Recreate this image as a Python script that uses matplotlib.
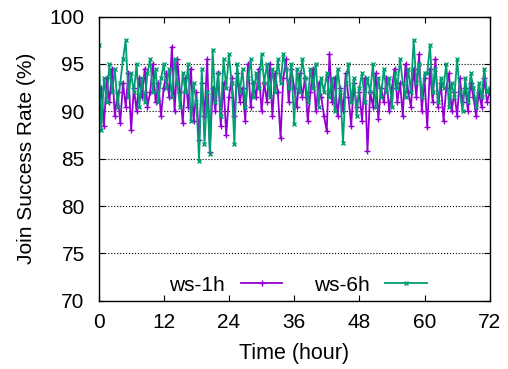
import matplotlib.pyplot as plt
import numpy as np

plt.rcParams['font.family'] = ['Liberation Sans', 'DejaVu Sans']

# join success rate sampled every half hour
hours = np.arange(0, 72.5, 0.5)

ws_1h = [90.0, 92.5, 88.5, 93.5, 91.0, 94.5, 89.5, 92.0, 88.8, 93.0, 90.5, 94.0, 88.0,
         92.5, 90.0, 93.5, 91.5, 94.5, 90.5, 92.0, 95.0, 91.0, 93.0, 89.5, 92.5,
         94.0, 91.5, 96.8, 90.0, 95.5, 92.0, 88.8, 93.5, 90.5, 94.5, 89.0, 92.0,
         87.0, 93.0, 89.5, 95.5, 85.7, 92.5, 90.0, 94.0, 88.5, 93.0, 87.5, 91.5,
         93.5, 89.5, 94.0, 91.0, 92.5, 89.0, 95.0, 90.5, 93.0, 91.5, 94.5, 90.0,
         93.0, 91.0, 95.0, 89.5, 94.0, 92.0, 87.2, 93.5, 95.5, 91.0, 94.5, 92.5,
         90.5, 94.0, 91.5, 93.5, 89.0, 92.0, 94.5, 90.0, 93.0, 91.5, 89.5, 87.9,
         96.0, 91.0, 93.5, 89.5, 92.5, 90.0, 94.0, 91.5, 88.5, 93.0, 90.5, 92.0,
         89.0, 93.5, 85.8, 92.0, 90.5, 94.0, 89.2, 92.5, 91.0, 93.5, 90.0, 92.5,
         94.5, 91.0, 93.0, 89.5, 95.0, 92.0, 90.5, 94.5, 91.5, 96.0, 90.0, 93.5,
         88.3, 94.5, 91.0, 95.5, 90.5, 93.0, 89.0, 92.5, 94.0, 90.0, 92.0, 89.5,
         93.5, 91.0, 92.5, 90.0, 93.0, 91.5, 89.5, 92.0, 90.5, 93.5, 91.0, 92.0]

ws_6h = [97.0, 88.0, 93.5, 91.0, 95.0, 92.0, 94.5, 90.5, 93.0, 95.5, 97.5, 91.5, 94.0,
         92.0, 95.0, 90.5, 93.5, 91.0, 94.0, 95.5, 92.0, 94.5, 91.0, 93.5, 95.0,
         92.5, 94.5, 91.5, 95.5, 93.0, 90.5, 94.0, 92.0, 95.0, 89.0, 93.0, 91.0,
         84.8, 94.5, 86.5, 92.0, 85.5, 96.5, 91.0, 94.0, 89.5, 95.5, 92.5, 96.0,
         93.0, 86.5, 95.0, 92.0, 94.5, 90.5, 93.5, 95.5, 91.5, 94.0, 92.5, 96.0,
         93.0, 95.0, 91.5, 94.5, 92.0, 95.5, 93.0, 96.0, 94.5, 92.5, 95.0, 88.7,
         94.5, 92.0, 95.5, 93.5, 91.0, 94.5, 92.5, 95.0, 90.5, 93.5, 92.0, 94.0,
         91.5, 93.5, 90.0, 94.5, 92.0, 86.7, 93.0, 95.0, 91.0, 93.5, 89.5, 92.5,
         94.0, 91.0, 93.5, 92.0, 95.0, 90.5, 93.5, 91.5, 94.5, 92.0, 93.5, 90.5,
         94.0, 92.5, 95.5, 93.0, 91.5, 94.5, 92.0, 97.5, 93.0, 95.0, 91.5, 94.0,
         94.0, 97.0, 92.0, 94.5, 91.0, 93.5, 92.5, 95.0, 90.5, 93.0, 91.5, 95.5,
         92.0, 90.0, 93.5, 91.0, 94.0, 92.5, 90.5, 93.0, 91.5, 94.5, 92.0, 92.5]

fig = plt.figure(figsize=(5.08, 3.69), dpi=100)
ax = fig.add_axes([0.194, 0.185, 0.770, 0.770])

ax.plot(hours, ws_1h, color='#9400D3', lw=1.3, marker='+', ms=4, mew=1.0, label='ws-1h')
ax.plot(hours, ws_6h, color='#009E73', lw=1.3, marker='x', ms=3.5, mew=1.0, label='ws-6h')

ax.set_xlim(0, 72)
ax.set_ylim(70, 100)
ax.set_xticks(np.arange(0, 73, 12))
ax.set_yticks(np.arange(70, 101, 5))
ax.grid(axis='y', color='black', linestyle=':', linewidth=0.8)
ax.tick_params(direction='in', length=4, labelsize=15, top=True, right=True)
ax.tick_params(axis='y', pad=10)
ax.tick_params(axis='x', pad=9)
for s in ax.spines.values():
    s.set_linewidth(1.0)

ax.set_xlabel('Time (hour)', fontsize=15.5, labelpad=8)
ax.set_ylabel('Join Success Rate (%)', fontsize=15, labelpad=10)

ax.legend(loc='lower center', bbox_to_anchor=(0.51, -0.045), ncol=2, frameon=False,
          markerfirst=False, numpoints=1, fontsize=15, handlelength=2.0,
          columnspacing=1.5, handletextpad=0.75)

fig.savefig('out.png', dpi=100)
